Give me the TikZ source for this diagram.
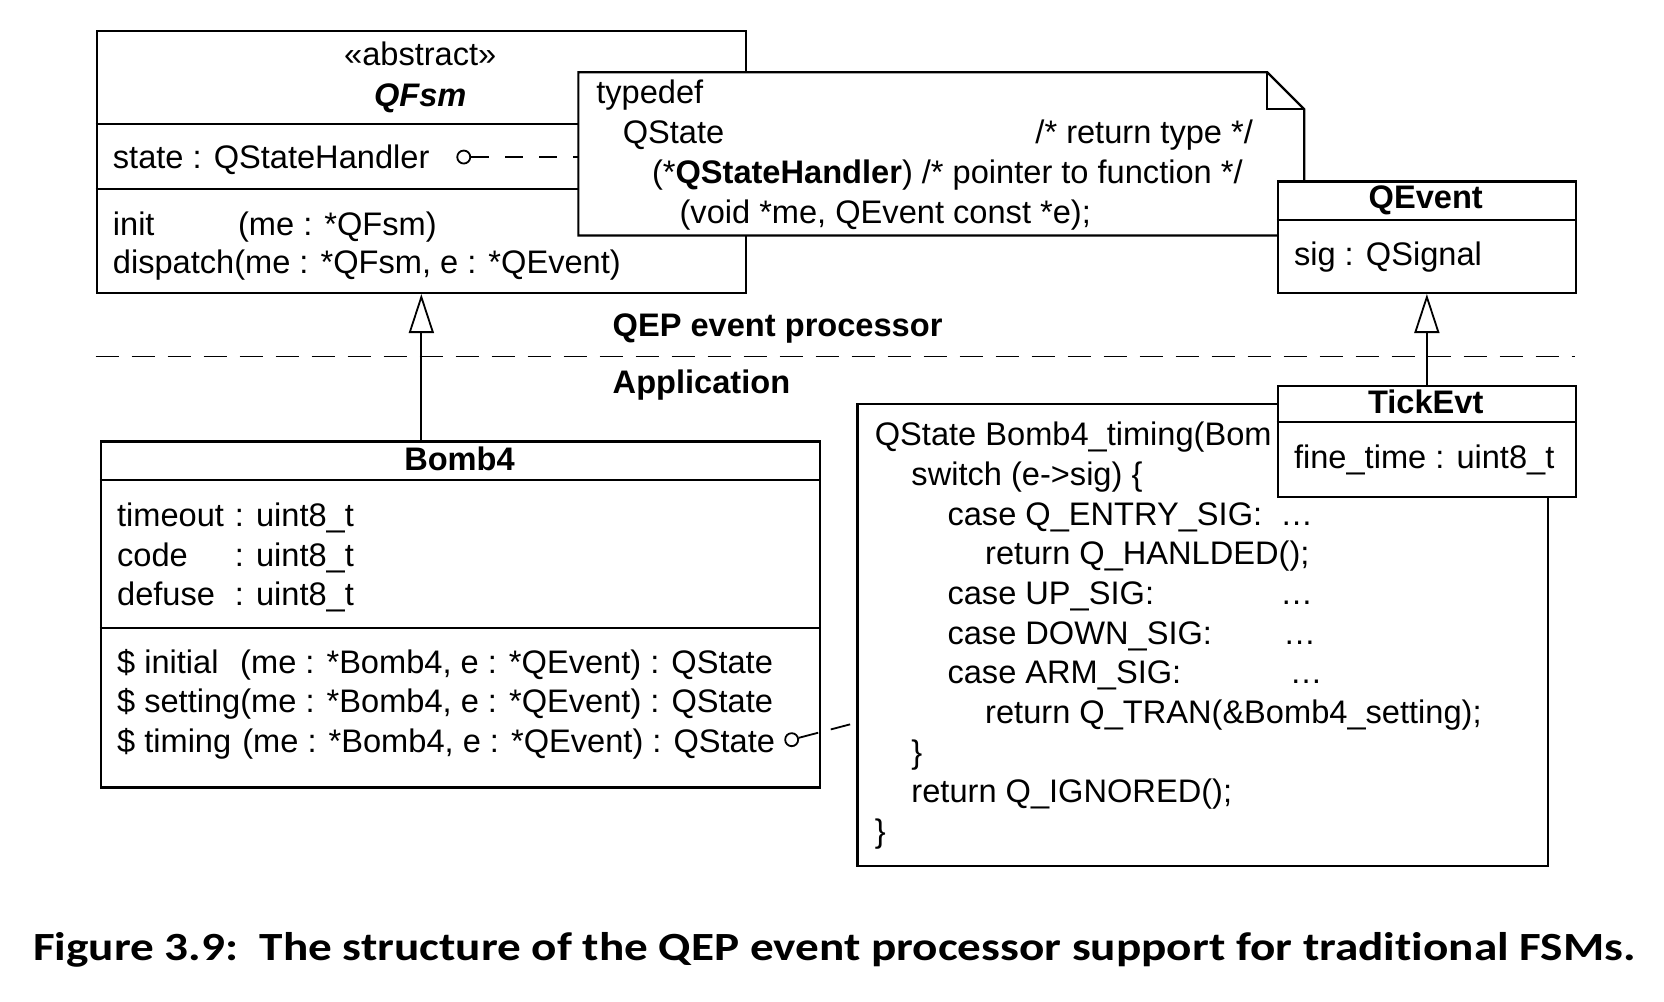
\documentclass[tikz,border=0pt]{standalone}
\usepackage{fontspec}
\setmainfont{Liberation Sans}
\newfontfamily\capfont[FakeStretch=1.18, Ligatures=NoCommon]{Carlito}
\usetikzlibrary{arrows.meta}

\newcommand{\pxu}{0.5306pt}

\begin{document}
\begin{tikzpicture}[x=\pxu, y=-\pxu,
  box/.style={draw, line width=1.1pt, fill=white, inner sep=0pt, anchor=north west},
  txt/.style={anchor=base west, inner sep=0pt, font=\fontsize{16.3}{19}\selectfont},
  ttl/.style={anchor=base, inner sep=0pt, font=\bfseries\fontsize{16.3}{19}\selectfont},
  dot/.style={circle, draw, line width=0.9pt, fill=white, inner sep=0pt, minimum size=6.5pt},
  inherit/.style={-{Triangle[open, length=19.5pt, width=12.5pt, line width=0.9pt]}, line width=0.9pt},
  link/.style={line width=0.9pt, dash pattern=on 9pt off 8pt}]

\useasboundingbox (0,0) rectangle (1568,944);

% QFsm class
\node[box, minimum width=612*\pxu, minimum height=247*\pxu] (qfsm) at (90,28) {};
\foreach \yy in {117, 178} {
    \draw[line width=1.1pt] (90,\yy) -- (702,\yy);
}
\node[txt, anchor=base] (qfsmstereo) at (396,62) {«abstract»};
\node[ttl, font=\bfseries\itshape\fontsize{16.3}{19}\selectfont] (qfsmname) at (396,100) {QFsm};
\node[txt] (qfsmstate) at (106,159) {state : QStateHandler};
\node[txt] (qfsminit) at (106,221.5) {init};
\node[txt] (qfsminitargs) at (224,221.5) {(me : *QFsm)};
\node[txt] (qfsmdisp) at (106,257.5) {dispatch(me : *QFsm, e : *QEvent)};

% typedef note
\draw[line width=1.1pt, fill=white] (545,68) -- (1194,68) -- (1229,103) -- (1229,222) -- (545,222) -- cycle;
\draw[line width=1.1pt] (1194,68) -- (1194,103) -- (1229,103);
\node[inner sep=0pt, anchor=north west, minimum width=684*\pxu, minimum height=154*\pxu] (hdlnote) at (545,68) {};
\node[txt] (notel1) at (561.5,97.5) {typedef};
\node[txt] (notel2) at (586.5,135) {QState};
\node[txt, anchor=base east] (notec2) at (1181,135) {/* return type */};
\node[txt] (notel3) at (614,172.5) {(*\textbf{QStateHandler}) /* pointer to function */};
\node[txt] (notel4) at (640,210.5) {(void *me, QEvent const *e);};

% QEvent class
\node[box, minimum width=281*\pxu, minimum height=105*\pxu] (qevent) at (1203,170) {};
\draw[line width=1.1pt] (1203,207) -- (1484,207);
\node[ttl] (qeventname) at (1343.5,196) {QEvent};
\node[txt] (qeventsig) at (1219,250) {sig : QSignal};

% layer separator
\draw[line width=0.9pt, dash pattern=on 11.5pt off 6.5pt] (90,336) -- (1484,336);
\node[ttl, anchor=base west] (qeplabel) at (577,317.5) {QEP event processor};
\node[ttl, anchor=base west] (applabel) at (577,370.5) {Application};

% state handler code
\node[box, minimum width=651*\pxu, minimum height=435*\pxu] (timingcode) at (807,380) {};
\foreach \xx/\row/\ln in {824/0/{QState Bomb4\_timing(Bom},
                          858.5/1/{switch (e->sig) \{},
                          892.5/2/{case Q\_ENTRY\_SIG:},
                          928/3/{return Q\_HANLDED();},
                          892.5/4/{case UP\_SIG:},
                          892.5/5/{case DOWN\_SIG:},
                          892.5/6/{case ARM\_SIG:},
                          928/7/{return Q\_TRAN(\&Bomb4\_setting);},
                          858.5/8/{\}},
                          858.5/9/{return Q\_IGNORED();},
                          824/10/{\}}} {
    \node[txt] (code\row) at (\xx,420+37.4*\row) {\ln};
}
\foreach \xx/\row in {1206/2, 1206/4, 1209/5, 1215/6} {
    \node[txt] (dots\row) at (\xx,420+37.4*\row) {…};
}

% TickEvt class
\node[box, minimum width=281*\pxu, minimum height=104*\pxu] (tickevt) at (1203,363) {};
\draw[line width=1.1pt] (1203,398) -- (1484,398);
\node[ttl] (tickevtname) at (1343.5,390) {TickEvt};
\node[txt] (tickevtfine) at (1219,441.5) {fine\_time : uint8\_t};

% Bomb4 class
\node[box, minimum width=678*\pxu, minimum height=326*\pxu] (bomb4) at (94,415) {};
\foreach \yy in {452, 592} {
    \draw[line width=1.1pt] (94,\yy) -- (772,\yy);
}
\node[ttl] (bomb4name) at (433,443.5) {Bomb4};
\foreach \row/\attr in {0/timeout, 1/code, 2/defuse} {
    \node[txt] (attr\row) at (110,496+37.4*\row) {\attr};
    \node[txt] (type\row) at (221,496+37.4*\row) {: uint8\_t};
}
\node[txt] (opinit) at (110,634.5) {\$ initial};
\node[txt] (opinitargs) at (226,634.5) {(me : *Bomb4, e : *QEvent) : QState};
\node[txt] (opsetting) at (110,671.8) {\$ setting(me : *Bomb4, e : *QEvent) : QState};
\node[txt] (optiming) at (110,709.3) {\$ timing};
\node[txt] (optimingargs) at (228,709.3) {(me : *Bomb4, e : *QEvent) : QState};

% connectors
\node[dot] (stdot) at (437,148) {};
\draw[link] (stdot) -- (stdot -| hdlnote.west);
\node[dot] (tmdot) at (746,697) {};
\coordinate (tmend) at (807,681);
\draw[link, dash pattern=on 10pt off 6.5pt] (tmdot) -- (tmend);
\draw[inherit] (bomb4.north -| qfsm.south) -- (qfsm.south);
\draw[inherit] (tickevt.north) -- (qevent.south);

% caption
\node[anchor=base west, inner sep=0pt, font=\capfont\bfseries\fontsize{20}{24}\selectfont] (caption) at (31,905)
    {Figure 3.9:~~The structure of the QEP event processor support for traditional FSMs.};

\end{tikzpicture}
\end{document}
